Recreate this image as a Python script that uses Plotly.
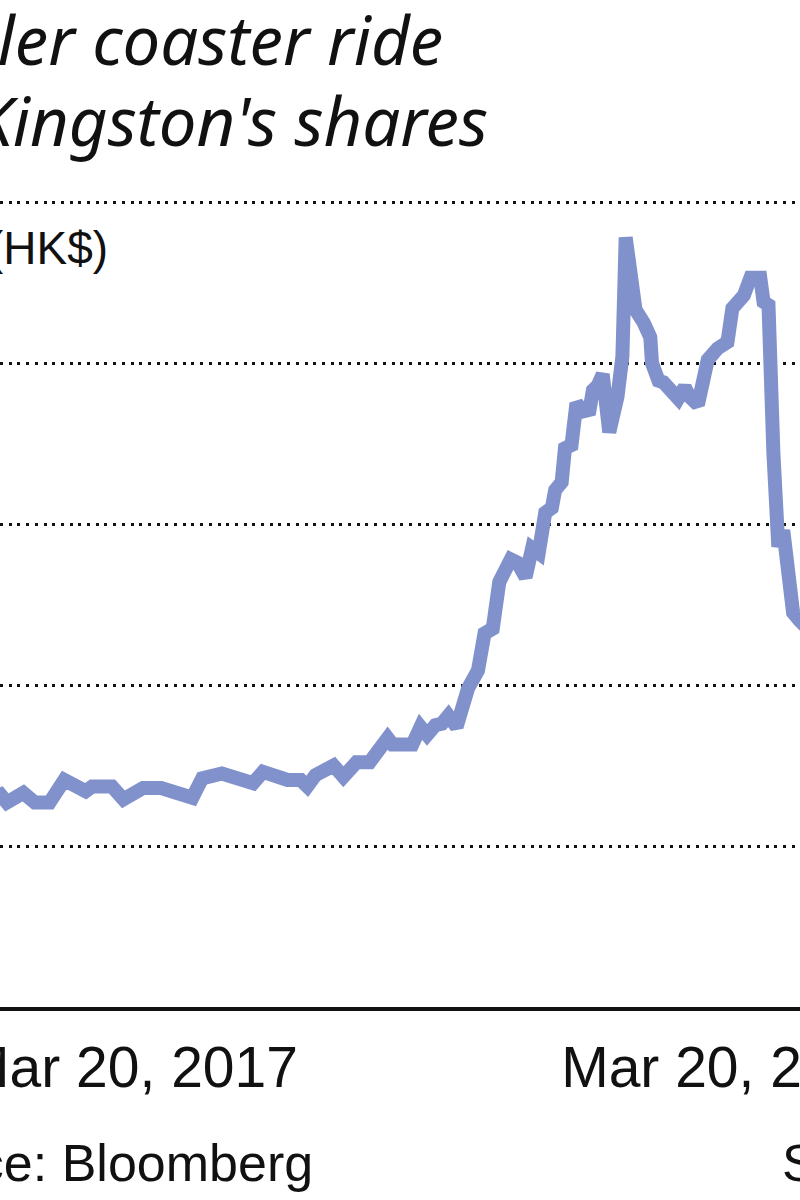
import plotly.graph_objects as go

# ---- data ----
dates = [
    "2016-12-25", "2016-12-31", "2017-01-04", "2017-01-14", "2017-01-21", "2017-01-30",
    "2017-02-08", "2017-02-21", "2017-02-25", "2017-03-09", "2017-03-16", "2017-03-28",
    "2017-04-08", "2017-04-27", "2017-05-03", "2017-05-15", "2017-06-03", "2017-06-09",
    "2017-06-24", "2017-07-02", "2017-07-06", "2017-07-11", "2017-07-22", "2017-07-28",
    "2017-08-05", "2017-08-13", "2017-08-24", "2017-08-27", "2017-09-08", "2017-09-13",
    "2017-09-17", "2017-09-22", "2017-09-26", "2017-09-30", "2017-10-05", "2017-10-12",
    "2017-10-18", "2017-10-22", "2017-10-27", "2017-10-31", "2017-11-07", "2017-11-11",
    "2017-11-16", "2017-11-20", "2017-11-24", "2017-11-28", "2017-12-02", "2017-12-04",
    "2017-12-08", "2017-12-10", "2017-12-14", "2017-12-17", "2017-12-21", "2017-12-25",
    "2017-12-27", "2017-12-30", "2018-01-02", "2018-01-06", "2018-01-11", "2018-01-14",
    "2018-01-16", "2018-01-22", "2018-01-27", "2018-01-31", "2018-02-01", "2018-02-05",
    "2018-02-08", "2018-02-17", "2018-02-21", "2018-02-24", "2018-03-01", "2018-03-07",
    "2018-03-13", "2018-03-19", "2018-03-22", "2018-03-25", "2018-03-29", "2018-04-02",
    "2018-04-08", "2018-04-10", "2018-04-13", "2018-04-16", "2018-04-19", "2018-04-22",
    "2018-04-28", "2018-05-02", "2018-05-08",
]
price_hkd = [
    1.30, 1.32, 1.27, 1.33, 1.27, 1.27,
    1.41, 1.34, 1.37, 1.37, 1.29, 1.36,
    1.36, 1.30, 1.42, 1.45, 1.39, 1.46,
    1.41, 1.41, 1.37, 1.44, 1.50, 1.43,
    1.52, 1.52, 1.67, 1.63, 1.63, 1.74,
    1.69, 1.75, 1.76, 1.81, 1.74, 1.98,
    2.09, 2.32, 2.35, 2.64, 2.78, 2.76,
    2.67, 2.85, 2.82, 3.07, 3.10, 3.21,
    3.26, 3.47, 3.49, 3.75, 3.70, 3.71,
    3.83, 3.86, 3.93, 3.57, 3.79, 4.04,
    4.78, 4.33, 4.25, 4.16, 4.00, 3.89,
    3.88, 3.78, 3.85, 3.79, 3.74, 4.02,
    4.09, 4.13, 4.34, 4.38, 4.42, 4.53,
    4.53, 4.38, 4.36, 3.44, 2.86, 2.96,
    2.45, 2.40, 2.34,
]
tick_dates = ["2017-03-20", "2018-03-20"]
tick_labels = ["Mar 20, 2017", "Mar 20, 2018"]
grid_values = [1, 2, 3, 4, 5]

title_line1 = "A roller coaster ride"
title_line2 = "for Kingston's shares"
unit_label = "Share price (HK$)"
source_text = "Source: Bloomberg"
credit_text = "SCMP Graphics"

# ---- layout geometry ----
W, H = 800, 1200
TOP, BOTTOM = 180, 1007
PLOT_H = BOTTOM - TOP


def py(p):
    return (BOTTOM - p) / PLOT_H


def px(p):
    return p / W


LINE_COLOR = "#8191CB"
FONT = "Liberation Sans, Arial, sans-serif"
TITLE_FONT = "Noto Sans, Liberation Sans, sans-serif"

fig = go.Figure()
fig.add_trace(go.Scatter(
    x=dates, y=price_hkd, mode="lines",
    line=dict(color=LINE_COLOR, width=14),
    hoverinfo="skip", showlegend=False, cliponaxis=False,
))

fig.update_layout(
    width=W, height=H,
    margin=dict(l=0, r=0, t=TOP, b=H - BOTTOM, pad=0, autoexpand=False),
    paper_bgcolor="white", plot_bgcolor="white",
    font=dict(family=FONT, color="#111111"),
    xaxis=dict(
        type="date",
        range=["2016-12-30 19:12", "2018-05-02 04:48"],
        tickvals=tick_dates, ticktext=tick_labels,
        tickfont=dict(size=57, family=FONT, color="#111111"),
        ticklabeloverflow="allow", automargin=False,
        showgrid=False, zeroline=False,
        showline=True, linecolor="#111111", linewidth=4,
        ticks="", ticklabelstandoff=8,
    ),
    yaxis=dict(
        range=[0, PLOT_H / 161], automargin=False,
        tickvals=grid_values, showticklabels=False,
        showgrid=True, gridcolor="#111111", gridwidth=3,
        griddash="3px,5.7px",
        zeroline=False, showline=False, ticks="",
    ),
    annotations=[
        dict(text=title_line1, xref="paper", yref="paper", x=px(445), y=py(-9),
             xanchor="right", yanchor="top", showarrow=False,
             font=dict(size=67, family=TITLE_FONT, style="italic", color="#111111")),
        dict(text=title_line2, xref="paper", yref="paper", x=px(490), y=py(72),
             xanchor="right", yanchor="top", showarrow=False,
             font=dict(size=67, family=TITLE_FONT, style="italic", color="#111111")),
        dict(text=unit_label, xref="paper", yref="paper", x=px(110), y=py(220),
             xanchor="right", yanchor="top", showarrow=False,
             font=dict(size=46, family=FONT, color="#111111")),
        dict(text=source_text, xref="paper", yref="paper", x=px(315), y=py(1132),
             xanchor="right", yanchor="top", showarrow=False,
             font=dict(size=52, family=FONT, color="#111111")),
        dict(text=credit_text, xref="paper", yref="paper", x=px(780), y=py(1132),
             xanchor="left", yanchor="top", showarrow=False,
             font=dict(size=52, family=FONT, color="#111111")),
    ],
)

fig.write_html("out.html", config={"displayModeBar": False},
               post_script="document.body.style.margin='0';")
